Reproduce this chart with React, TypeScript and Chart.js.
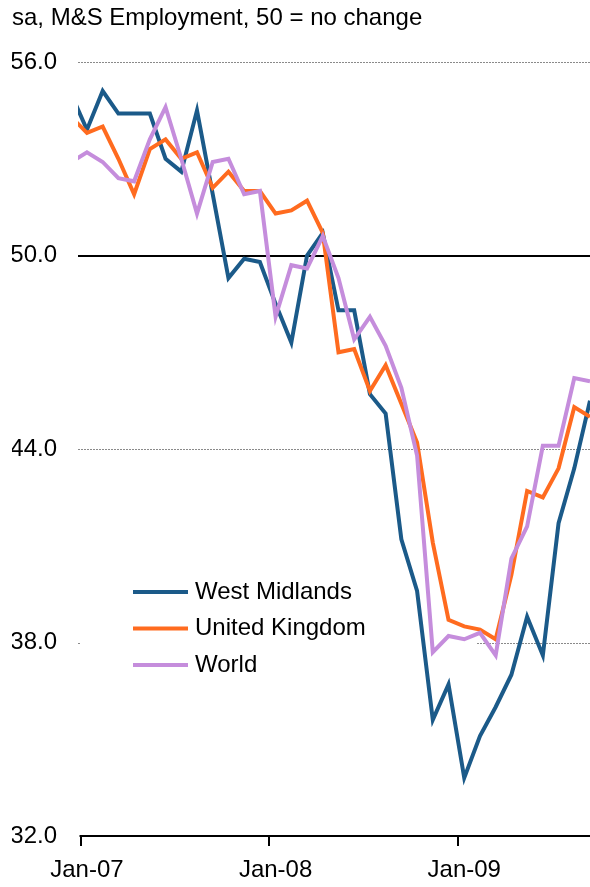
import React, { useEffect, useRef } from 'react';
import { Chart, registerables } from 'chart.js';

Chart.register(...registerables);

// ---- data ----
const months = [
  'Dec-06',
  'Jan-07', 'Feb-07', 'Mar-07', 'Apr-07', 'May-07', 'Jun-07', 'Jul-07', 'Aug-07', 'Sep-07', 'Oct-07', 'Nov-07', 'Dec-07',
  'Jan-08', 'Feb-08', 'Mar-08', 'Apr-08', 'May-08', 'Jun-08', 'Jul-08', 'Aug-08', 'Sep-08', 'Oct-08', 'Nov-08', 'Dec-08',
  'Jan-09', 'Feb-09', 'Mar-09', 'Apr-09', 'May-09', 'Jun-09', 'Jul-09', 'Aug-09', 'Sep-09',
];

const westMidlands = [
  55.0,
  53.9, 55.1, 54.4, 54.4, 54.4, 53.0, 52.6, 54.5, 51.9, 49.3, 49.9, 49.8,
  48.5, 47.3, 50.0, 50.7, 48.3, 48.3, 45.7, 45.1, 41.2, 39.6, 35.6, 36.7,
  33.8, 35.1, 36.0, 37.0, 38.8, 37.6, 41.7, 43.4, 45.5,
];

const unitedKingdom = [
  54.3,
  53.8, 54.0, 53.0, 51.9, 53.3, 53.6, 53.0, 53.2, 52.1, 52.6, 52.0, 52.0,
  51.3, 51.4, 51.7, 50.7, 47.0, 47.1, 45.8, 46.6, 45.4, 44.2, 41.1, 38.7,
  38.5, 38.4, 38.1, 40.1, 42.7, 42.5, 43.4, 45.3, 45.0,
];

const world = [
  52.9,
  53.2, 52.9, 52.4, 52.3, 53.6, 54.6, 53.0, 51.3, 52.9, 53.0, 51.9, 52.0,
  48.1, 49.7, 49.6, 50.6, 49.3, 47.4, 48.1, 47.2, 45.9, 43.8, 37.7, 38.2,
  38.1, 38.3, 37.6, 40.6, 41.6, 44.1, 44.1, 46.2, 46.1,
];

const seriesNames = ['West Midlands', 'United Kingdom', 'World'];
const yTicks = [32, 38, 44, 50, 56];
const xTickLabels = ['Jan-07', 'Jan-08', 'Jan-09'];
const titleText = 'sa, M&S Employment, 50 = no change';

const FONT = '"Liberation Sans", Arial, sans-serif';
const COLORS = ['#1B5A89', '#FF6B1F', '#C58DDC'];

const toPoints = (arr: number[]) => arr.map((v, i) => ({ x: i - 1, y: v }));

const decorPlugin = {
  id: 'decor',
  beforeDatasetsDraw(chart: any) {
    const { ctx, chartArea, scales } = chart;
    const ys = scales.y;
    const xs = scales.x;
    ctx.save();
    // horizontal grid lines
    yTicks.forEach((v) => {
      if (v === yTicks[0]) return;
      const py = ys.getPixelForValue(v);
      ctx.beginPath();
      if (v === 50) {
        ctx.setLineDash([]);
        ctx.strokeStyle = '#000000';
        ctx.lineWidth = 2;
        ctx.moveTo(chartArea.left, Math.round(py));
        ctx.lineTo(chartArea.right, Math.round(py));
      } else {
        ctx.setLineDash([2, 1]);
        ctx.strokeStyle = '#8a8a8a';
        ctx.lineWidth = 1;
        ctx.moveTo(chartArea.left, Math.round(py) + 0.5);
        ctx.lineTo(chartArea.right, Math.round(py) + 0.5);
      }
      ctx.stroke();
    });
    ctx.setLineDash([]);
    // legend background box
    ctx.fillStyle = '#ffffff';
    ctx.fillRect(80, 568, 397, 120);
    // x axis line + tick marks
    const axisY = Math.round(ys.getPixelForValue(yTicks[0]));
    const tickXs = xTickLabels.map((l) => xs.getPixelForValue(months.indexOf(l) - 1 - 0.41));
    ctx.strokeStyle = '#000000';
    ctx.lineWidth = 2;
    ctx.beginPath();
    ctx.moveTo(tickXs[0] - 1, axisY);
    ctx.lineTo(chartArea.right, axisY);
    ctx.stroke();
    tickXs.forEach((tx) => {
      ctx.beginPath();
      ctx.moveTo(Math.round(tx), axisY);
      ctx.lineTo(Math.round(tx), axisY + 10);
      ctx.stroke();
    });
    ctx.restore();
  },
  afterDatasetsDraw(chart: any) {
    const { ctx } = chart;
    ctx.save();
    // legend
    const rows = [592, 628.5, 665];
    chart.data.datasets.forEach((ds: any, i: number) => {
      const y = rows[i];
      ctx.strokeStyle = ds.borderColor;
      ctx.lineWidth = 4;
      ctx.beginPath();
      ctx.moveTo(133, y);
      ctx.lineTo(188, y);
      ctx.stroke();
      ctx.fillStyle = '#000000';
      ctx.font = `24px ${FONT}`;
      ctx.textBaseline = 'middle';
      ctx.textAlign = 'left';
      ctx.fillText(ds.label, 195, y);
    });
    // title
    ctx.fillStyle = '#000000';
    ctx.font = `24px ${FONT}`;
    ctx.textBaseline = 'middle';
    ctx.textAlign = 'left';
    ctx.fillText(titleText, 12, 18);
    ctx.restore();
  },
};

export default function App() {
  const canvasRef = useRef<HTMLCanvasElement | null>(null);

  useEffect(() => {
    const canvas = canvasRef.current;
    if (!canvas) return;
    const chart = new Chart(canvas, {
      type: 'line',
      data: {
        datasets: [
          { label: seriesNames[0], data: toPoints(westMidlands), borderColor: COLORS[0], order: 3 },
          { label: seriesNames[1], data: toPoints(unitedKingdom), borderColor: COLORS[1], order: 2 },
          { label: seriesNames[2], data: toPoints(world), borderColor: COLORS[2], order: 1 },
        ].map((d) => ({
          ...d,
          backgroundColor: d.borderColor,
          borderWidth: 4,
          pointRadius: 0,
          pointHoverRadius: 0,
          tension: 0,
          fill: false,
          clip: 0,
          borderJoinStyle: 'miter' as const,
        })),
      },
      options: {
        responsive: false,
        animation: false,
        devicePixelRatio: 1,
        layout: { padding: { left: 12, top: 62, right: 0, bottom: 0 } },
        plugins: {
          legend: { display: false },
          title: { display: false },
          tooltip: { enabled: false },
        },
        scales: {
          x: {
            type: 'linear',
            position: 'bottom',
            min: -0.57,
            max: 32,
            afterBuildTicks: (s: any) => {
              s.ticks = xTickLabels.map((l) => ({ value: months.indexOf(l) - 1 }));
            },
            afterFit: (s: any) => {
              s.height = 51;
            },
            ticks: {
              autoSkip: false,
              maxRotation: 0,
              padding: 20,
              color: '#000000',
              font: { family: FONT, size: 24 },
              callback: (v: any) => months[Number(v) + 1],
            },
            grid: { display: false, drawTicks: false },
            border: { display: false },
          },
          y: {
            type: 'linear',
            min: 32,
            max: 56,
            afterBuildTicks: (s: any) => {
              s.ticks = yTicks.map((v) => ({ value: v }));
            },
            afterFit: (s: any) => {
              s.width = 66;
            },
            ticks: {
              padding: 21,
              color: '#000000',
              font: { family: FONT, size: 24 },
              callback: (v: any) => Number(v).toFixed(1),
            },
            grid: { display: false, drawTicks: false },
            border: { display: false },
          },
        },
      },
      plugins: [decorPlugin],
    });
    return () => chart.destroy();
  }, []);

  return (
    <div style={{ position: 'absolute', left: 0, top: 0, width: 590, height: 887, background: '#fff' }}>
      <canvas ref={canvasRef} width={590} height={887} style={{ display: 'block', width: 590, height: 887 }} />
    </div>
  );
}
